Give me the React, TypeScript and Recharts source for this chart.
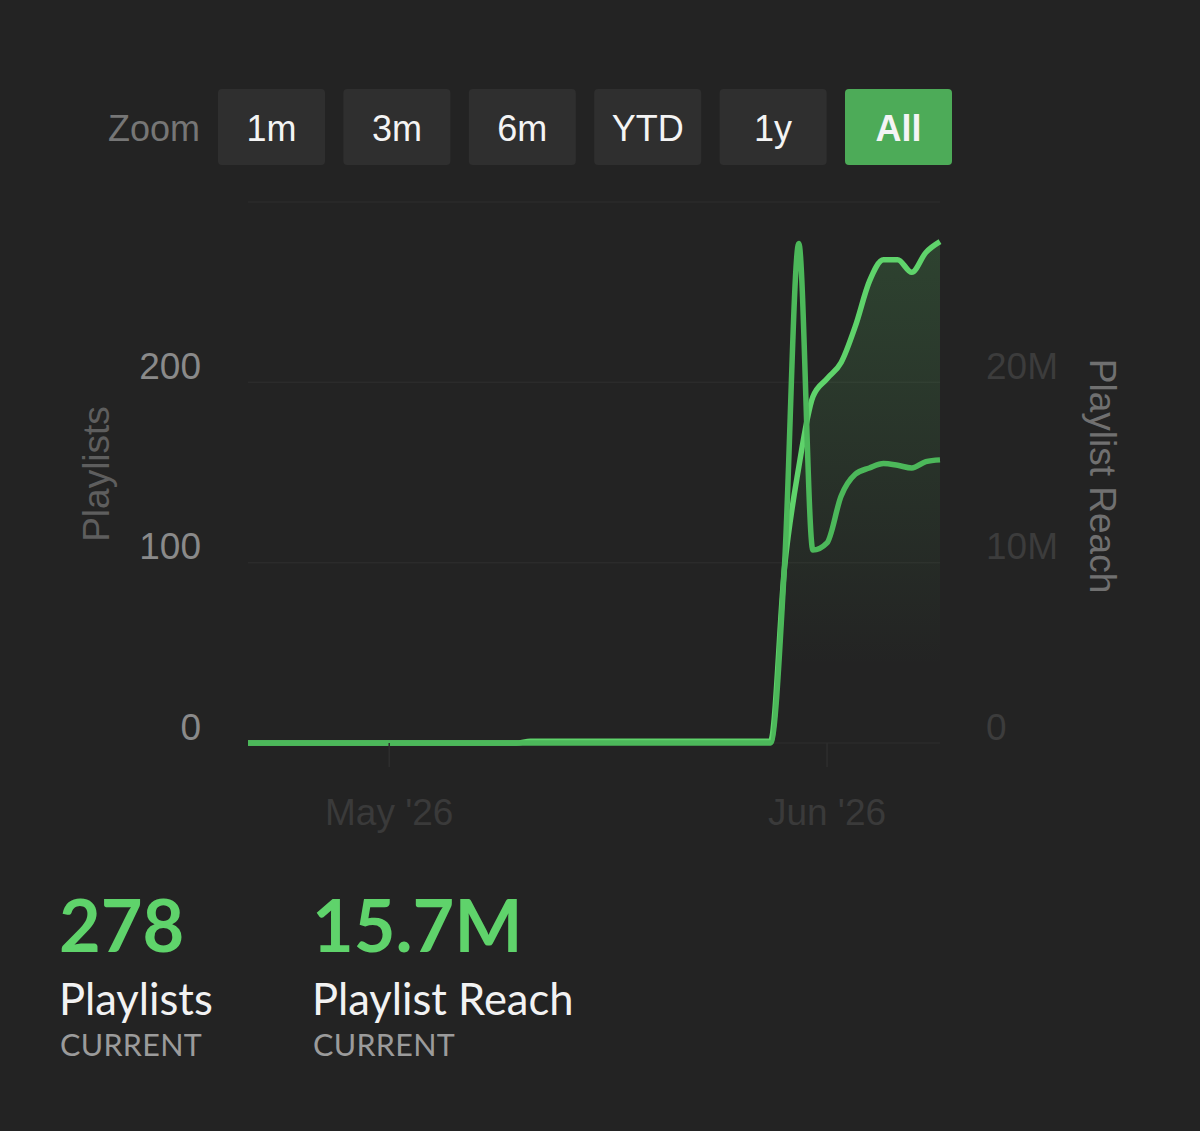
import { Area, CartesianGrid, ComposedChart, Line, XAxis, YAxis } from 'recharts';

// daily points, Apr 21 '26 .. Jun 9 '26
const playlists = [
  0, 0, 0, 0, 0, 0, 0, 0, 0, 0,
  0, 0, 0, 0, 0, 0, 0, 0, 0, 0,
  1, 1, 1, 1, 1, 1, 1, 1, 1, 1,
  1, 1, 1, 1, 1, 1, 1, 1, 98, 153,
  192, 202, 211, 231, 256, 268, 268, 261, 272, 278,
];

// playlist reach, millions
const reachM = [
  0, 0, 0, 0, 0, 0, 0, 0, 0, 0,
  0, 0, 0, 0, 0, 0, 0, 0, 0, 0,
  0, 0, 0, 0, 0, 0, 0, 0, 0, 0,
  0, 0, 0, 0, 0, 0, 0, 0, 10, 27.7,
  10.7, 11.1, 13.7, 14.9, 15.25, 15.5, 15.4, 15.25, 15.6, 15.7,
];

const xTickIdx = [10, 41];
const xTickLabels = ["May '26", "Jun '26"];
const leftTicks = [0, 100, 200, 300];
const rightTicks = [0, 10_000_000, 20_000_000, 30_000_000];
const zoomButtons = ['1m', '3m', '6m', 'YTD', '1y', 'All'];

const stats = [
  { value: '278', label: 'Playlists' },
  { value: '15.7M', label: 'Playlist Reach' },
];

const BG = '#232323';
const GREEN_BRIGHT = '#5fd36b';
const GREEN_DARK = '#4cb85a';
const SANS = '"Liberation Sans", Arial, Helvetica, sans-serif';

const data = playlists.map((p, i) => ({ i, playlists: p, reach: reachM[i] * 1_000_000 }));

const fmtReach = (v: number) => (v === 0 ? '0' : `${v / 1_000_000}M`);

function LeftTick({ x, y, payload }: any) {
  if (payload.value === 300) return <g />;
  return (
    <text x={x} y={y - 16} textAnchor="end" dominantBaseline="central" fontSize={37} fontFamily={SANS} fill="#8a8a8a">
      {payload.value}
    </text>
  );
}

function RightTick({ x, y, payload }: any) {
  if (payload.value === 30_000_000) return <g />;
  return (
    <text x={x} y={y - 16} textAnchor="start" dominantBaseline="central" fontSize={37} fontFamily={SANS} fill="#3c3c3c">
      {fmtReach(payload.value)}
    </text>
  );
}

function BottomTick({ x, y, payload }: any) {
  const label = xTickLabels[xTickIdx.indexOf(payload.value)] ?? '';
  return (
    <text x={x} y={y} textAnchor="middle" dominantBaseline="central" fontSize={37} fontFamily={SANS} fill="#3a3a3a">
      {label}
    </text>
  );
}

export default function App() {
  return (
    <div style={{ position: 'absolute', left: 0, top: 0, width: 1200, height: 1131, background: BG, overflow: 'hidden' }}>
      <div style={{ position: 'absolute', left: 0, top: 0 }}>
        <ComposedChart width={1200} height={900} data={data} margin={{ top: 202, right: 0, bottom: 0, left: 0 }}>
          <defs>
            <linearGradient id="plFill" x1="0" y1="0" x2="0" y2="1">
              <stop offset="0%" stopColor={GREEN_BRIGHT} stopOpacity={0.18} />
              <stop offset="85%" stopColor={GREEN_BRIGHT} stopOpacity={0} />
            </linearGradient>
          </defs>
          <CartesianGrid yAxisId="left" vertical={false} stroke="#2b2b2b" strokeWidth={1.5} />
          <XAxis
            dataKey="i"
            type="number"
            domain={[0, 49]}
            ticks={xTickIdx}
            interval={0}
            height={157}
            axisLine={false}
            tickSize={24}
            tickMargin={45}
            tickLine={{ stroke: '#2e2e2e', strokeWidth: 1.5 }}
            tick={BottomTick}
          />
          <YAxis
            yAxisId="left"
            orientation="left"
            width={248}
            domain={[0, 300]}
            ticks={leftTicks}
            interval={0}
            axisLine={false}
            tickLine={false}
            tickSize={0}
            tickMargin={47}
            tick={LeftTick}
          />
          <YAxis
            yAxisId="right"
            orientation="right"
            width={260}
            domain={[0, 30_000_000]}
            ticks={rightTicks}
            interval={0}
            axisLine={false}
            tickLine={false}
            tickSize={0}
            tickMargin={46}
            tick={RightTick}
          />
          <Area
            yAxisId="left"
            type="monotone"
            dataKey="playlists"
            stroke={GREEN_BRIGHT}
            strokeWidth={5.5}
            fill="url(#plFill)"
            fillOpacity={1}
            dot={false}
            activeDot={false}
            isAnimationActive={false}
          />
          <Line
            yAxisId="right"
            type="monotone"
            dataKey="reach"
            stroke={GREEN_DARK}
            strokeWidth={5.5}
            dot={false}
            activeDot={false}
            isAnimationActive={false}
          />
        </ComposedChart>
      </div>

      <svg width={1200} height={1131} style={{ position: 'absolute', left: 0, top: 0, pointerEvents: 'none' }}>
        <text x={200} y={128} textAnchor="end" dominantBaseline="central" fontSize={36} fontFamily={SANS} fill="#767676">
          Zoom
        </text>
        {zoomButtons.map((b, i) => {
          const active = b === 'All';
          const left = 218 + i * 125.4;
          return (
            <g key={b}>
              <rect x={left} y={89} width={107} height={76} rx={4} fill={active ? '#4dab58' : '#2f2f2f'} />
              <text
                x={left + 53.5}
                y={128}
                textAnchor="middle"
                dominantBaseline="central"
                fontSize={36}
                fontWeight={active ? 700 : 400}
                fontFamily={SANS}
                fill="#f4f4f4"
              >
                {b}
              </text>
            </g>
          );
        })}

        <text
          transform="translate(96,474) rotate(-90)"
          textAnchor="middle"
          dominantBaseline="central"
          fontSize={37}
          fontFamily={SANS}
          fill="#5e5e5e"
        >
          Playlists
        </text>
        <text
          transform="translate(1102,476) rotate(90)"
          textAnchor="middle"
          dominantBaseline="central"
          fontSize={37}
          fontFamily={SANS}
          fill="#707070"
        >
          Playlist Reach
        </text>

        {stats.map((s, i) => {
          const left = i === 0 ? 59 : 312;
          return (
            <g key={s.label} fontFamily="Lato, sans-serif">
              <text x={left} y={952} fontSize={72} fontWeight={700} fill={GREEN_BRIGHT}>
                {s.value}
              </text>
              <text x={left} y={1015} fontSize={43.5} fill="#f2f2f2">
                {s.label}
              </text>
              <text x={left + 1} y={1056} fontSize={30.5} letterSpacing={0.3} fill="#9b9b9b">
                CURRENT
              </text>
            </g>
          );
        })}
      </svg>
    </div>
  );
}
